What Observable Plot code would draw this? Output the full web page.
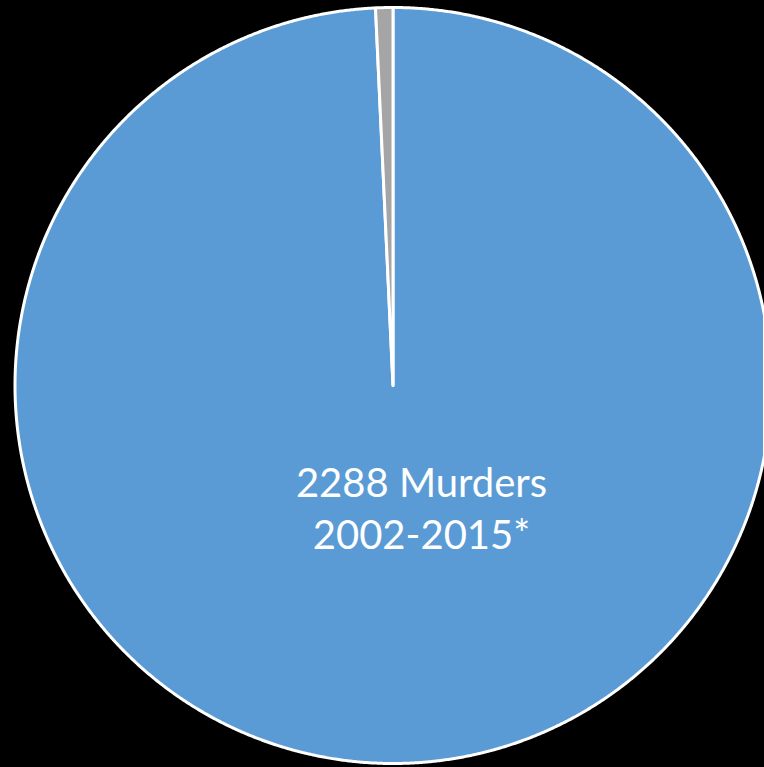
<!DOCTYPE html>
<html><head><meta charset="utf-8">
<style>html,body{margin:0;padding:0;background:#000;overflow:hidden}</style>
<script src="https://cdn.jsdelivr.net/npm/d3@7"></script>
<script src="https://cdn.jsdelivr.net/npm/@observablehq/plot@0.6"></script>
</head><body><div id="chart"></div>
<script>
const categories = ["Murders", "Other"];
const values = [2288, 17];
const colors = ["#5B9BD5", "#A5A5A5"];
const labelLines = ["2288 Murders", "2002-2015*"];

const W = 764, H = 767;
const cx = 392.5, cy = 385, R = 378;
const rows = categories.map((c, i) => ({category: c, value: values[i]}));
const arcs = d3.pie().value(d => d.value).sort(null)(rows);
function wedge(a) {
  const pts = [[cx, cy]];
  const n = Math.max(2, Math.ceil((a.endAngle - a.startAngle) / 0.004));
  for (let k = 0; k <= n; k++) {
    const t = a.startAngle + (a.endAngle - a.startAngle) * k / n;
    pts.push([cx + R * Math.sin(t), cy - R * Math.cos(t)]);
  }
  pts.push([cx, cy]);
  return {type: "Feature", properties: {category: a.data.category}, geometry: {type: "Polygon", coordinates: [pts]}};
}
const features = arcs.map(wedge);
const fs = 40;
const chart = Plot.plot({
  width: W, height: H, margin: 0,
  projection: {type: "identity"},
  style: {background: "#000", overflow: "hidden"},
  color: {domain: categories, range: colors},
  marks: [
    Plot.geo(features, {fill: d => d.properties.category, stroke: "white", strokeWidth: 3, strokeLinejoin: "round"}),
    Plot.text(labelLines, {
      x: () => cx + 28.5,
      y: (d, i) => 496 + i * 52 - 0.32 * fs,
      text: d => d,
      textAnchor: "middle",
      fill: "white",
      fontSize: fs,
      fontFamily: "Lato"
    })
  ]
});
document.getElementById("chart").append(chart);
</script></body></html>
